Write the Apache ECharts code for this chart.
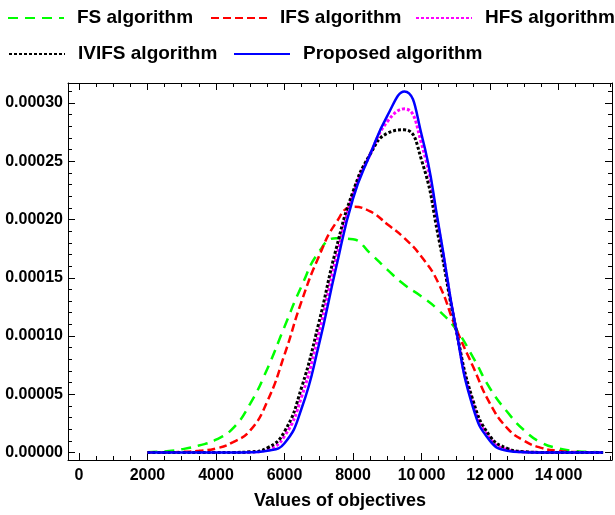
<!DOCTYPE html>
<html>
<head>
<meta charset="utf-8">
<script src="https://cdn.jsdelivr.net/npm/echarts@6/dist/echarts.min.js"></script>
<style>
  html, body { margin: 0; padding: 0; background: #fff; }
  #chart { width: 615px; height: 515px; }
</style>
</head>
<body>
<div id="chart"></div>
<script>
// ---- data ----
const xValues = [2000, 2500, 3000, 3500, 4000, 4500, 5000, 5500, 6000, 6500, 7000, 7500, 8000, 8500,
                 9000, 9500, 10000, 10500, 11000, 11500, 12000, 12500, 13000, 13500, 14000, 14500, 15000, 15300];

const fsValues = [0.3e-6, 1.0e-6, 2.8e-6, 6.0e-6, 11e-6, 21e-6, 42e-6, 72e-6, 108e-6, 143e-6, 172e-6, 184e-6, 183e-6, 171e-6,
                  157e-6, 144e-6, 134e-6, 122e-6, 106e-6, 82e-6, 55e-6, 35e-6, 19e-6, 8.5e-6, 3.6e-6, 1.3e-6, 0.4e-6, 0.2e-6];

const ifsValues = [0, 0.1e-6, 0.5e-6, 1.5e-6, 3.5e-6, 9e-6, 19e-6, 44e-6, 84e-6, 130e-6, 168e-6, 197e-6, 211e-6, 207e-6,
                   196e-6, 184e-6, 168e-6, 145e-6, 107e-6, 74e-6, 42e-6, 21e-6, 10e-6, 4e-6, 1.4e-6, 0.4e-6, 0.1e-6, 0];

const hfsValues = [0, 0, 0, 0, 0, 0, 0.3e-6, 2.5e-6, 14e-6, 48e-6, 102e-6, 166e-6, 221e-6, 256e-6,
                   284e-6, 295e-6, 265e-6, 192e-6, 107e-6, 42e-6, 12e-6, 2.5e-6, 0.5e-6, 0.1e-6, 0, 0, 0, 0];

const ivifsValues = [0, 0, 0, 0, 0, 0.1e-6, 0.6e-6, 4e-6, 18e-6, 56e-6, 111e-6, 174e-6, 224e-6, 256e-6,
                     274e-6, 277e-6, 251e-6, 184e-6, 107e-6, 45e-6, 14e-6, 3.6e-6, 0.7e-6, 0.1e-6, 0, 0, 0, 0];

const proposedValues = [0, 0, 0, 0, 0, 0, 0.2e-6, 1.5e-6, 8e-6, 38e-6, 92e-6, 158e-6, 218e-6, 256e-6,
                        289e-6, 310e-6, 273e-6, 195e-6, 107e-6, 39e-6, 10e-6, 1.6e-6, 0.3e-6, 0, 0, 0, 0, 0];

const seriesNames = ['FS algorithm', 'IFS algorithm', 'HFS algorithm', 'IVIFS algorithm', 'Proposed algorithm'];

const xTickLabels = [0, 2000, 4000, 6000, 8000, 10000, 12000, 14000];
const xMinorTicks = [0, 500, 1000, 1500, 2000, 2500, 3000, 3500, 4000, 4500, 5000, 5500, 6000, 6500, 7000, 7500,
                     8000, 8500, 9000, 9500, 10000, 10500, 11000, 11500, 12000, 12500, 13000, 13500, 14000, 14500, 15000, 15500];
const yTickLabels = [0, 0.00005, 0.0001, 0.00015, 0.0002, 0.00025, 0.0003];
const yMinorTicks = [0, 0.00001, 0.00002, 0.00003, 0.00004, 0.00005, 0.00006, 0.00007, 0.00008, 0.00009,
                     0.0001, 0.00011, 0.00012, 0.00013, 0.00014, 0.00015, 0.00016, 0.00017, 0.00018, 0.00019,
                     0.0002, 0.00021, 0.00022, 0.00023, 0.00024, 0.00025, 0.00026, 0.00027, 0.00028, 0.00029,
                     0.0003, 0.00031];

// ---- chart ----
const FONT = 'Liberation Sans, Arial, sans-serif';
const X_MIN = -320, X_MAX = 15560;
const Y_MIN = -0.0000064, Y_MAX = 0.0003172;

function pairs(ys) { return xValues.map((x, i) => [x, ys[i]]); }

function fmtX(v) {
  const s = String(Math.round(v));
  return s.length > 4 ? s.slice(0, s.length - 3) + '\u2009' + s.slice(s.length - 3) : s;
}

const lineSpecs = [
  { name: seriesNames[0], data: fsValues, color: '#00ff00', type: [10, 7], width: 2.5 },
  { name: seriesNames[1], data: ifsValues, color: '#ff0000', type: [8, 4], width: 2.5 },
  { name: seriesNames[2], data: hfsValues, color: '#ff00ff', type: [3, 2], width: 3 },
  { name: seriesNames[3], data: ivifsValues, color: '#000000', type: [3, 2], width: 3 },
  { name: seriesNames[4], data: proposedValues, color: '#0000ff', type: 'solid', width: 2.5 }
];

function mkX(pos, ticks, len, labels, showLine) {
  return {
    type: 'value', position: pos, min: X_MIN, max: X_MAX,
    axisLine: { show: showLine, onZero: false, lineStyle: { color: '#000', width: 1 } },
    axisTick: { show: true, inside: true, length: len, customValues: ticks, lineStyle: { color: '#000', width: 1 } },
    axisLabel: labels ? {
      show: true, customValues: xTickLabels, formatter: fmtX, color: '#000',
      fontSize: 16, fontWeight: 'bold', fontFamily: FONT, margin: 8
    } : { show: false },
    splitLine: { show: false }
  };
}
function mkY(pos, ticks, len, labels, showLine) {
  return {
    type: 'value', position: pos, min: Y_MIN, max: Y_MAX,
    axisLine: { show: showLine, onZero: false, lineStyle: { color: '#000', width: 1 } },
    axisTick: { show: true, inside: true, length: len, customValues: ticks, lineStyle: { color: '#000', width: 1 } },
    axisLabel: labels ? {
      show: true, customValues: yTickLabels, formatter: v => Number(v).toFixed(5), color: '#000',
      fontSize: 16, fontWeight: 'bold', fontFamily: FONT, margin: 5
    } : { show: false },
    splitLine: { show: false }
  };
}

const legendPos = [
  { left: 7, top: 8 }, { left: 210, top: 8 }, { left: 415, top: 8 },
  { left: 8, top: 44 }, { left: 233, top: 44 }
];

const option = {
  animation: false,
  backgroundColor: '#fff',
  grid: { left: 68, top: 83, width: 544, height: 377, show: false, containLabel: false },
  legend: seriesNames.map((n, i) => ({
    data: [n], left: legendPos[i].left, top: legendPos[i].top, padding: 0,
    orient: 'horizontal', selectedMode: false,
    itemWidth: 56, itemHeight: 12, itemGap: 0,
    itemStyle: { opacity: 0 },
    textStyle: { fontSize: 19, fontWeight: 'bold', color: '#000', fontFamily: FONT, lineHeight: 20, padding: [0, 0, 0, 8] }
  })),
  xAxis: [
    mkX('bottom', xTickLabels, 7, true, true),
    mkX('bottom', xMinorTicks, 4, false, false),
    mkX('top', xTickLabels, 7, false, true),
    mkX('top', xMinorTicks, 4, false, false)
  ],
  yAxis: [
    mkY('left', yTickLabels, 7, true, true),
    mkY('left', yMinorTicks, 4, false, false),
    mkY('right', yTickLabels, 7, false, true),
    mkY('right', yMinorTicks, 4, false, false)
  ],
  graphic: [{
    type: 'text', x: 340, y: 501,
    style: { text: 'Values of objectives', fontSize: 18, fontWeight: 'bold', fontFamily: FONT, fill: '#000',
             align: 'center', verticalAlign: 'middle' }
  }],
  series: lineSpecs.map(s => ({
    name: s.name, type: 'line', xAxisIndex: 0, yAxisIndex: 0,
    data: pairs(s.data), smooth: 0.5, symbol: 'none', showSymbol: false,
    color: s.color,
    lineStyle: { color: s.color, width: s.width, type: s.type, cap: 'butt' },
    emphasis: { disabled: true }, z: 2
  }))
};

const chart = echarts.init(document.getElementById('chart'), null, { renderer: 'canvas' });
chart.setOption(option);
</script>
</body>
</html>
